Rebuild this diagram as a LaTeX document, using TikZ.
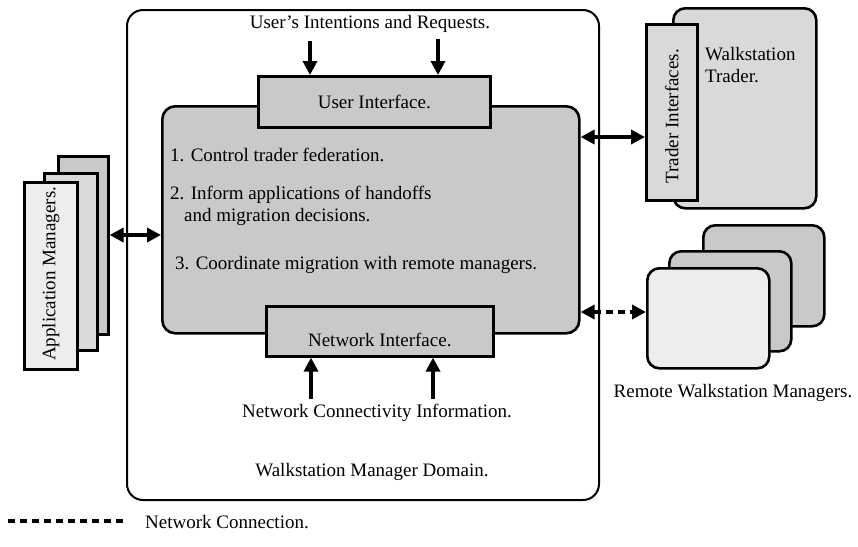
\documentclass[tikz,border=0pt]{standalone}
\usepackage{fontspec}
\setmainfont{Liberation Serif}
\usetikzlibrary{arrows.meta}
\begin{document}
\begin{tikzpicture}[x=1pt,y=-1pt,
  every node/.style={font=\fontsize{19}{22}\selectfont, inner sep=0pt},
  panel/.style={draw, line width=2.6pt, anchor=north west},
  domainbox/.style={draw, line width=2pt, rounded corners=16pt, anchor=north west},
  darkfill/.style={fill=gray!42},
  lightfill/.style={fill=gray!14},
  midfill/.style={fill=gray!30},
  flow/.style={line width=4pt, -{Triangle[length=14pt,width=14pt]}},
  twoway/.style={line width=4pt, {Triangle[length=14pt,width=14pt]}-{Triangle[length=14pt,width=14pt]}},
  netlink/.style={line width=4.5pt, dash pattern=on 7pt off 5pt},
  netway/.style={netlink, {Triangle[length=14pt,width=14pt]}-{Triangle[length=14pt,width=14pt]}}
]
\useasboundingbox (0,0) rectangle (858,546);

% Walkstation manager domain
\node[domainbox, minimum width=472pt, minimum height=490pt] (domain) at (126,9) {};

% manager core with its two interfaces
\node[panel, darkfill, rounded corners=13pt, minimum width=417pt, minimum height=227pt] (core) at (161,105) {};
\node[panel, darkfill, minimum width=232pt, minimum height=51pt] (ui) at (257,75) {};
\node at (ui.center) {User Interface.};
\node[panel, darkfill, minimum width=227pt, minimum height=50pt] (ni) at (265,305) {};
\node at ([yshift=-9pt]ni.center) {Network Interface.};

% core responsibilities
\node[anchor=west] (r1) at (170,155) {1. Control trader federation.};
\node[anchor=west] (r2) at (170,195) {2. Inform applications of handoffs};
\node[anchor=west] (r2b) at (184,217) {and migration decisions.};
\node[anchor=west] (r3) at (175,265) {3. Coordinate migration with remote managers.};

% user input
\node (usr) at (370,24) {User’s Intentions and Requests.};
\coordinate (u1) at (310,41);
\coordinate (u2) at (438,39);
\draw[flow] (u1) -- (u1 |- ui.north);
\draw[flow] (u2) -- (u2 |- ui.north);

% network input
\node (nci) at (377,413) {Network Connectivity Information.};
\coordinate (n1) at (311,399);
\coordinate (n2) at (433,399);
\draw[flow] (n1) -- (n1 |- ni.south);
\draw[flow] (n2) -- (n2 |- ni.south);

\node (dname) at (372,472) {Walkstation Manager Domain.};

% application managers
\node[panel, darkfill, minimum width=50pt, minimum height=178pt] (appc) at (57,155) {};
\node[panel, midfill, minimum width=53pt, minimum height=177pt] (appb) at (43,172) {};
\node[panel, lightfill, minimum width=53pt, minimum height=187pt] (appa) at (23,181) {};
\node[rotate=90] at ([yshift=2pt]appa.center) {Application Managers.};
\coordinate (ay) at (0,235);
\draw[twoway] (appc.east |- ay) -- (core.west |- ay);

% walkstation trader
\node[panel, midfill, rounded corners=12pt, minimum width=143pt, minimum height=200pt] (trader) at (672,7) {};
\node[anchor=north west, align=left] (tname) at (705,47) {Walkstation\\Trader.};
\node[panel, midfill, minimum width=51pt, minimum height=176pt] (tif) at (645,23) {};
\node[rotate=90] at ([yshift=-4pt]tif.center) {Trader Interfaces.};
\coordinate (ty) at (0,137);
\draw[twoway] (core.east |- ty) -- (tif.west |- ty);

% remote walkstation managers
\node[panel, darkfill, rounded corners=12pt, minimum width=121pt, minimum height=101pt] (rc) at (702,224) {};
\node[panel, darkfill, rounded corners=12pt, minimum width=122pt, minimum height=100pt] (rb) at (668,250) {};
\node[panel, lightfill, rounded corners=12pt, minimum width=122pt, minimum height=100pt] (ra) at (646,267) {};
\node (rname) at (733,393) {Remote Walkstation Managers.};
\coordinate (ry) at (0,312);
\draw[netway] (core.east |- ry) -- (ra.west |- ry);

% legend
\coordinate (l1) at (8,521);
\coordinate (l2) at (125,521);
\draw[netlink] (l1) -- (l2);
\node[anchor=west] (lname) at (145,522) {Network Connection.};
\end{tikzpicture}
\end{document}
